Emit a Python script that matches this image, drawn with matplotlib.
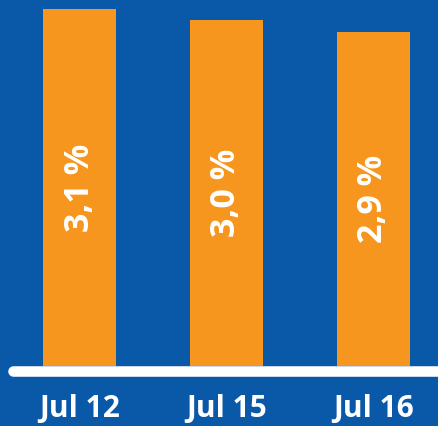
import matplotlib
matplotlib.use("Agg")
import matplotlib.pyplot as plt

categories = ["Jul 12", "Jul 15", "Jul 16"]
values = [3.1, 3.0, 2.9]
value_labels = ["3,1 %", "3,0 %", "2,9 %"]

BG = "#0a58a8"
ORANGE = "#f7961e"
WHITE = "#ffffff"

plt.rcParams["font.family"] = ["Open Sans", "DejaVu Sans"]

fig = plt.figure(figsize=(4.39, 4.26), dpi=100, facecolor=BG)
ax = fig.add_axes([0, 0, 1, 1])
ax.set_facecolor(BG)

x = list(range(len(categories)))
ax.bar(x, values, width=0.497, color=ORANGE, zorder=2)

# white baseline with rounded left end
ax.plot([-0.452, 3.0], [-0.043, -0.043], color=WHITE, linewidth=7.6,
        solid_capstyle="round", zorder=3)

for xi, v, lab in zip(x, values, value_labels):
    ax.text(xi, v / 2, lab, rotation=90, ha="center", va="center",
            color=WHITE, fontsize=24.5, fontweight="bold", zorder=4)

for xi, cat in zip(x, categories):
    ax.text(xi, -0.37, cat, ha="center", va="center",
            color=WHITE, fontsize=21.5, fontweight="bold", zorder=4)

ax.set_xlim(-0.541, 2.446)
ax.set_ylim(-0.521, 3.177)
ax.axis("off")

fig.savefig("out.png", dpi=100, facecolor=BG)
